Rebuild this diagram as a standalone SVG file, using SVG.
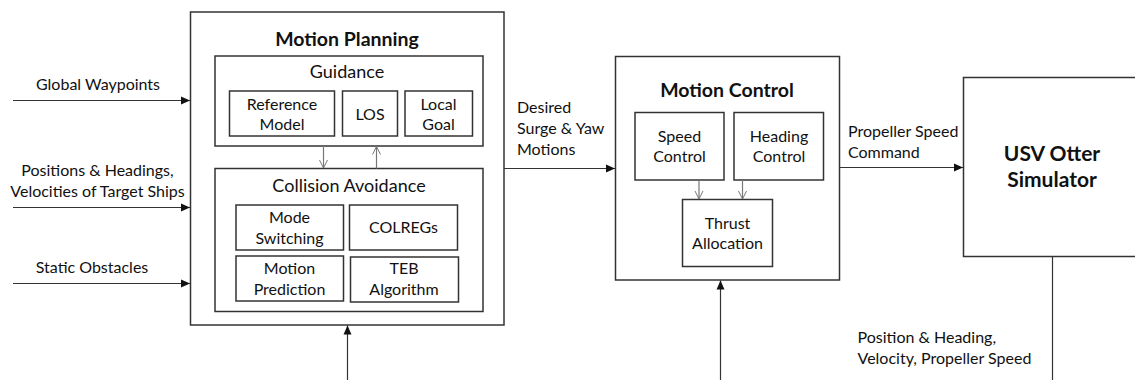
<svg xmlns="http://www.w3.org/2000/svg" width="1135" height="380" viewBox="0 0 1135 380">
<style>
rect{fill:#fff;stroke:#333;stroke-width:1.5}
text{font-family:Lato,"Liberation Sans",sans-serif;fill:#111;text-anchor:middle;font-size:16px}
.t{font-weight:bold;font-size:19.5px}
.h{font-size:18px}
.l{text-anchor:start}
.c{stroke:#333;stroke-width:1.2;fill:none}
.g{stroke:#777;stroke-width:1.2;fill:none}
</style>
<defs>
<marker id="a" markerUnits="userSpaceOnUse" markerWidth="10" markerHeight="10" refX="9" refY="5" orient="auto"><path d="M0,1 L9,5 L0,9 Z" fill="#111"/></marker>
<marker id="v" markerUnits="userSpaceOnUse" markerWidth="10" markerHeight="10" refX="9" refY="5" orient="auto"><path d="M1,1 L9,5 L1,9" fill="none" stroke="#777" stroke-width="1"/></marker>
</defs>
<g id="motion-planning">
<rect x="190.5" y="12" width="313.5" height="313"/>
<text class="t" x="347" y="46">Motion Planning</text>
</g>
<g id="guidance">
<rect x="215" y="56" width="268" height="90"/>
<text class="h" x="347" y="78">Guidance</text>
</g>
<g id="reference-model"><rect x="229.5" y="91" width="105" height="45"/><text x="282" y="110">Reference</text><text x="282" y="130">Model</text></g>
<g id="los"><rect x="342.5" y="91" width="55" height="45"/><text x="370" y="120">LOS</text></g>
<g id="local-goal"><rect x="405" y="91" width="67.5" height="45"/><text x="438.5" y="110">Local</text><text x="438.5" y="130">Goal</text></g>
<g id="collision-avoidance">
<rect x="215" y="168.5" width="268" height="143"/>
<text class="h" x="349" y="192">Collision Avoidance</text>
</g>
<g id="mode-switching"><rect x="236" y="205" width="107.5" height="45"/><text x="289.5" y="223">Mode</text><text x="289.5" y="244">Switching</text></g>
<g id="colregs"><rect x="349.5" y="205" width="108" height="45"/><text x="403.5" y="233">COLREGs</text></g>
<g id="motion-prediction"><rect x="236" y="256" width="107.5" height="45"/><text x="289.5" y="274">Motion</text><text x="289.5" y="295">Prediction</text></g>
<g id="teb-algorithm"><rect x="350.5" y="257" width="108" height="45"/><text x="404" y="274">TEB</text><text x="404" y="295">Algorithm</text></g>
<g id="motion-control">
<rect x="615.5" y="56.5" width="224" height="223.5"/>
<text class="t" x="727" y="97">Motion Control</text>
</g>
<g id="speed-control"><rect x="635" y="112.5" width="89" height="67.5"/><text x="679.5" y="142">Speed</text><text x="679.5" y="162">Control</text></g>
<g id="heading-control"><rect x="734" y="112.5" width="89.5" height="67.5"/><text x="779" y="142">Heading</text><text x="779" y="162">Control</text></g>
<g id="thrust-allocation"><rect x="682.5" y="199.5" width="90" height="67"/><text x="727.5" y="229">Thrust</text><text x="727.5" y="249">Allocation</text></g>
<g id="usv-otter-simulator">
<rect x="963.5" y="77.5" width="200" height="179"/>
<text class="t" x="1052" y="161" style="font-size:21px">USV Otter</text>
<text class="t" x="1052" y="187" style="font-size:21px">Simulator</text>
</g>
<g id="connectors">
<path class="c" d="M13,100.5 H190" marker-end="url(#a)"/>
<path class="c" d="M13,207.5 H190" marker-end="url(#a)"/>
<path class="c" d="M13,283.5 H190" marker-end="url(#a)"/>
<path class="c" d="M347.5,380 V325.5" marker-end="url(#a)"/>
<path class="c" d="M504,168.5 H615" marker-end="url(#a)"/>
<path class="c" d="M720.5,380 V280.5" marker-end="url(#a)"/>
<path class="c" d="M839.5,167.5 H963" marker-end="url(#a)"/>
<path class="c" d="M1052.5,257 V380"/>
<path class="g" d="M323.5,146 V168" marker-end="url(#v)"/>
<path class="g" d="M376.5,168.5 V146.5" marker-end="url(#v)"/>
<path class="g" d="M699,180 V199" marker-end="url(#v)"/>
<path class="g" d="M742.5,180 V199" marker-end="url(#v)"/>
</g>
<g id="labels">
<text x="98" y="90">Global Waypoints</text>
<text x="97.5" y="176">Positions &amp; Headings,</text>
<text x="97.5" y="197">Velocities of Target Ships</text>
<text x="92" y="273">Static Obstacles</text>
<text class="l" x="517" y="113">Desired</text>
<text class="l" x="517" y="134">Surge &amp; Yaw</text>
<text class="l" x="517" y="155">Motions</text>
<text class="l" x="848" y="137">Propeller Speed</text>
<text class="l" x="848" y="158">Command</text>
<text class="l" x="857.5" y="343">Position &amp; Heading,</text>
<text class="l" x="857.5" y="364">Velocity, Propeller Speed</text>
</g>
</svg>
